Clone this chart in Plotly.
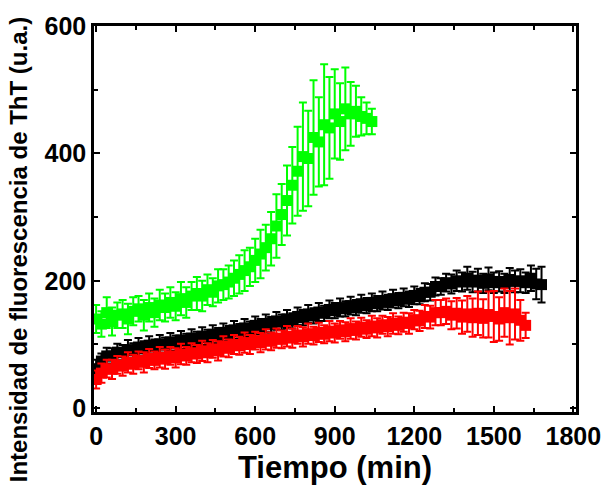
import plotly.graph_objects as go

# Time grid (min), shared by the three series
time_min = [0, 20, 40, 60, 80, 100, 120, 140, 160, 180, 200, 220, 240, 260, 280, 300,
            320, 340, 360, 380, 400, 420, 440, 460, 480, 500, 520, 540, 560, 580, 600,
            620, 640, 660, 680, 700, 720, 740, 760, 780, 800, 820, 840, 860, 880, 900,
            920, 940, 960, 980, 1000, 1020, 1040, 1060, 1080, 1100, 1120, 1140, 1160,
            1180, 1200, 1220, 1240, 1260, 1280, 1300, 1320, 1340, 1360, 1380, 1400,
            1420, 1440, 1460, 1480, 1500, 1520, 1540, 1560, 1580, 1600, 1620, 1640,
            1660, 1680]

green_y = [140, 132, 150, 136, 146, 148, 140, 152, 156, 146, 158, 150, 162, 158, 166,
           160, 172, 166, 176, 180, 176, 186, 182, 192, 194, 198, 204, 210, 216, 222,
           232, 242, 252, 266, 286, 304, 326, 350, 372, 395, 392, 425, 418, 445, 440,
           462, 450, 470, 462, 466, 458, 455, 450]
green_err = [22, 20, 24, 22, 20, 22, 24, 22, 20, 24, 22, 22, 24, 22, 24,
             22, 26, 24, 22, 26, 24, 24, 22, 26, 24, 26, 28, 30, 32, 30,
             34, 38, 36, 42, 50, 48, 55, 60, 70, 85, 75, 90, 70, 95, 80,
             70, 60, 65, 50, 40, 30, 25, 20]

black_y = [62, 74, 82, 82, 88, 87, 92, 90, 96, 93, 99, 96, 101, 99, 104, 102, 107,
           105, 110, 108, 113, 111, 116, 114, 119, 117, 123, 120, 126, 124, 130, 128,
           133, 131, 137, 135, 140, 137, 144, 142, 148, 145, 151, 149, 155, 153, 158,
           156, 161, 158, 164, 161, 166, 164, 169, 166, 172, 169, 174, 171, 177, 175,
           182, 182, 191, 191, 197, 195, 200, 198, 204, 198, 201, 196, 203, 197, 199,
           196, 202, 199, 200, 197, 204, 195, 194]
black_err = [14, 12, 13, 12, 13, 12, 15, 12, 14, 12, 14, 12, 14, 12, 14, 12, 14,
             12, 14, 12, 14, 12, 14, 12, 14, 12, 14, 12, 14, 12, 14, 12,
             14, 12, 14, 12, 14, 12, 14, 12, 14, 12, 14, 12, 14, 12, 14,
             12, 14, 12, 14, 12, 14, 12, 14, 12, 14, 12, 14, 12, 14, 12,
             14, 13, 14, 13, 14, 15, 16, 15, 18, 16, 18, 15, 18, 16, 16,
             15, 18, 17, 18, 16, 20, 24, 28]

red_y = [45, 55, 62, 61, 68, 66, 72, 69, 75, 72, 78, 75, 80, 77, 82, 79, 85, 82, 87,
         85, 90, 87, 93, 90, 97, 94, 100, 98, 103, 100, 106, 103, 108, 105, 110, 108,
         113, 110, 115, 112, 117, 114, 119, 116, 121, 118, 123, 120, 125, 122, 127,
         124, 129, 126, 131, 128, 133, 130, 135, 133, 139, 137, 144, 143, 150, 150,
         152, 146, 149, 143, 148, 142, 149, 141, 147, 144, 140, 150, 142, 148, 138, 130]
red_err = [14, 15, 14, 15, 14, 15, 16, 15, 14, 16, 15, 14, 16, 15, 14, 15, 16, 14, 15,
           14, 16, 15, 14, 15, 16, 14, 15, 14, 16, 15, 14, 15, 16, 14, 15, 14,
           16, 15, 14, 15, 16, 14, 15, 14, 16, 15, 14, 15, 16, 14, 15,
           14, 16, 15, 14, 15, 16, 14, 15, 16, 15, 16, 18, 18, 20, 20,
           20, 22, 24, 26, 28, 30, 34, 30, 36, 40, 34, 38, 42, 40, 32, 20]

x_ticks = [0, 300, 600, 900, 1200, 1500, 1800]
y_ticks = [0, 200, 400, 600]

series = [
    ("black", time_min[:len(black_y)], black_y, black_err, "#000000"),
    ("red", time_min[:len(red_y)], red_y, red_err, "#FF0000"),
    ("green", time_min[:len(green_y)], green_y, green_err, "#00FF00"),
]

fig = go.Figure()
for name, xs, ys, es, col in series:
    fig.add_trace(go.Scatter(
        x=xs, y=ys, name=name, mode="markers",
        marker=dict(symbol="square", size=11, color=col),
        error_y=dict(type="data", array=es, visible=True, color=col,
                     thickness=2, width=4),
        showlegend=False,
    ))

font_family = "Liberation Sans"
axis_common = dict(
    showline=True, linewidth=2.5, linecolor="black", mirror="ticks",
    ticks="inside", ticklen=6, tickwidth=2, tickcolor="black",
    showgrid=False, zeroline=False,
    tickfont=dict(family=font_family, size=25, color="black", weight=700),
)

fig.update_xaxes(
    range=[-8, 1810], tickvals=x_ticks, ticktext=[str(v) for v in x_ticks],
    minor=dict(ticks="inside", ticklen=4, tickwidth=2, tickcolor="black", dtick=150, tick0=0),
    title=dict(text="Tiempo (min)", font=dict(family=font_family, size=31, color="black", weight=700), standoff=6),
    **axis_common,
)
fig.update_yaxes(
    range=[-6, 600], tickvals=y_ticks, ticktext=[str(v) for v in y_ticks],
    minor=dict(ticks="inside", ticklen=4, tickwidth=2, tickcolor="black", dtick=100, tick0=0),
    **axis_common,
)

# y-axis title placed as annotation (its centre sits below the plot centre in the reference)
fig.add_annotation(
    text="Intensidad de fluorescencia de ThT (u.a.)",
    xref="paper", yref="paper", x=(18 - 94) / 482, y=(413 - 250) / 389,
    xanchor="center", yanchor="middle", textangle=-90, showarrow=False,
    font=dict(family=font_family, size=24, color="black", weight=700),
)

fig.update_layout(
    width=616, height=489,
    margin=dict(l=94, r=40, t=24, b=76),
    paper_bgcolor="white", plot_bgcolor="white",
)

fig.write_html("out.html")
